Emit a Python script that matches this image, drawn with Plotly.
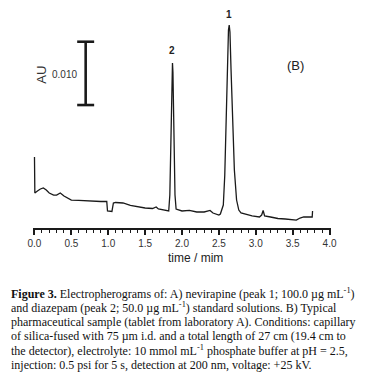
import plotly.graph_objects as go

# ---- data (time in min, absorbance in mAU) ----
time_min = [0.000, 0.005, 0.04, 0.08, 0.12, 0.16, 0.20, 0.26, 0.30, 0.35, 0.40, 0.45,
            0.50, 0.60, 0.70, 0.80, 0.90, 0.98, 0.99, 1.05, 1.07, 1.10, 1.20, 1.30,
            1.40, 1.50, 1.60, 1.65, 1.68, 1.75, 1.82, 1.835, 1.85, 1.865, 1.871, 1.877,
            1.893, 1.905, 1.92, 2.00, 2.10, 2.20, 2.30, 2.38, 2.42, 2.50, 2.52, 2.56,
            2.58, 2.60, 2.615, 2.63, 2.64, 2.65, 2.665, 2.685, 2.71, 2.74, 2.77, 2.80,
            2.85, 2.95, 3.05, 3.08, 3.10, 3.12, 3.20, 3.30, 3.40, 3.50, 3.55, 3.60,
            3.65, 3.75, 3.765, 3.77]
absorbance_mau = [11.22, 5.53, 5.85, 6.16, 6.32, 6.00, 5.53, 5.21, 5.21, 5.53, 5.06, 4.74,
                  4.42, 4.35, 4.27, 4.19, 4.19, 4.19, 2.69, 2.61, 3.95, 4.03, 3.95, 3.56,
                  3.32, 3.16, 3.08, 3.32, 3.00, 2.84, 2.69, 5.21, 14.38, 24.96, 26.07, 24.65,
                  14.38, 5.21, 3.00, 2.69, 2.77, 2.53, 2.53, 2.77, 2.37, 2.05, 2.21, 3.63,
                  8.37, 17.06, 25.75, 31.28, 32.07, 30.97, 24.96, 17.06, 9.16, 4.42, 2.84, 2.37,
                  2.21, 1.90, 1.74, 2.05, 2.77, 1.90, 1.74, 1.50, 1.42, 1.34, 1.26, 1.58,
                  1.74, 1.74, 1.74, 2.69]

tick_vals = [0.0, 0.5, 1.0, 1.5, 2.0, 2.5, 3.0, 3.5, 4.0]
tick_text = ["0.0", "0.5", "1.0", "1.5", "2.0", "2.5", "3.0", "3.5", "4.0"]

peak_names = ["1", "2"]
peak_times = [2.64, 1.871]
peak_label_heights = [33.8, 28.0]

scale_bar_value_mau = 10.0        # 0.010 AU
scale_bar_base_mau = 19.43
scale_bar_time = 0.694
scale_bar_cap_half = 0.115

caption_lines = [
    "<b>Figure 3.</b> Electropherograms of: A) nevirapine (peak 1; 100.0 µg mL<sup>-1</sup>)",
    "and diazepam (peak 2; 50.0 µg mL<sup>-1</sup>) standard solutions. B) Typical",
    "pharmaceutical sample (tablet from laboratory A). Conditions: capillary",
    "of silica-fused with 75 µm i.d. and a total length of 27 cm (19.4 cm to",
    "the detector), electrolyte: 10 mmol mL<sup>-1</sup> phosphate buffer at pH = 2.5,",
    "injection: 0.5 psi for 5 s, detection at 200 nm, voltage: +25 kV.",
]

# ---- layout geometry (page has an 8px body margin) ----
OFF = 8
W, H = 351, 364
ML, MT = 25, 0
PW, PH = 298, 220
MR, MB = W - ML - PW, H - MT - PH
Y_MAX = PH * 0.158

def px_to_paper_x(page_px):
    return (page_px - OFF - ML) / PW

def px_to_paper_y(page_py):
    return (MT + PH - (page_py - OFF)) / PH

fig = go.Figure()

fig.add_trace(go.Scatter(
    x=time_min, y=absorbance_mau, mode="lines",
    line=dict(color="#1a1a1a", width=1.3), hoverinfo="skip", showlegend=False,
))

# scale bar
top = scale_bar_base_mau + scale_bar_value_mau
bx = scale_bar_time
c = scale_bar_cap_half
fig.add_trace(go.Scatter(
    x=[bx - c, bx + c, None, bx, bx, None, bx - c, bx + c],
    y=[top, top, None, top, scale_bar_base_mau, None, scale_bar_base_mau, scale_bar_base_mau],
    mode="lines", line=dict(color="#1a1a1a", width=2.6),
    hoverinfo="skip", showlegend=False,
))

annotations = []
for name, t, h in zip(peak_names, peak_times, peak_label_heights):
    annotations.append(dict(x=t, y=h, xref="x", yref="y", text=f"<b>{name}</b>",
                            showarrow=False, font=dict(size=10, color="#222")))

annotations.append(dict(x=0.403, y=24.3, xref="x", yref="y", text="0.010", showarrow=False,
                        font=dict(size=10, color="#333")))
annotations.append(dict(x=0.10, y=24.2, xref="x", yref="y", text="AU", textangle=-90,
                        showarrow=False, font=dict(size=13, color="#333")))
annotations.append(dict(x=3.54, y=25.6, xref="x", yref="y", text="(B)", showarrow=False,
                        font=dict(size=13, color="#222")))
annotations.append(dict(x=px_to_paper_x(195), y=px_to_paper_y(267), xref="paper", yref="paper",
                        text="time / mim", showarrow=False, font=dict(size=12, color="#222")))

line_y0, line_dy = 293, 14.4
for i, ln in enumerate(caption_lines):
    annotations.append(dict(
        x=px_to_paper_x(9), y=px_to_paper_y(line_y0 + i * line_dy),
        xref="paper", yref="paper", xanchor="left", yanchor="middle",
        text=ln, showarrow=False, align="left",
        font=dict(family="Liberation Serif, Times New Roman, serif", size=12, color="#111"),
    ))

fig.update_layout(
    width=W, height=H,
    margin=dict(l=ML, r=MR, t=MT, b=MB, pad=0),
    paper_bgcolor="white", plot_bgcolor="white",
    font=dict(family="Liberation Sans, Arial, sans-serif"),
    xaxis=dict(
        range=[-0.02, 4.02], tickvals=tick_vals, ticktext=tick_text,
        showline=True, linewidth=2, linecolor="#1a1a1a",
        ticks="outside", ticklen=5, tickwidth=1.5, tickcolor="#1a1a1a",
        minor=dict(dtick=0.1, ticks="outside", ticklen=3, tickwidth=1, tickcolor="#1a1a1a"),
        tickfont=dict(size=10, color="#333"),
        showgrid=False, zeroline=False, fixedrange=True,
    ),
    yaxis=dict(range=[0, Y_MAX], visible=False, showgrid=False, zeroline=False, fixedrange=True),
    annotations=annotations,
    showlegend=False,
)

fig.write_html("out.html")
